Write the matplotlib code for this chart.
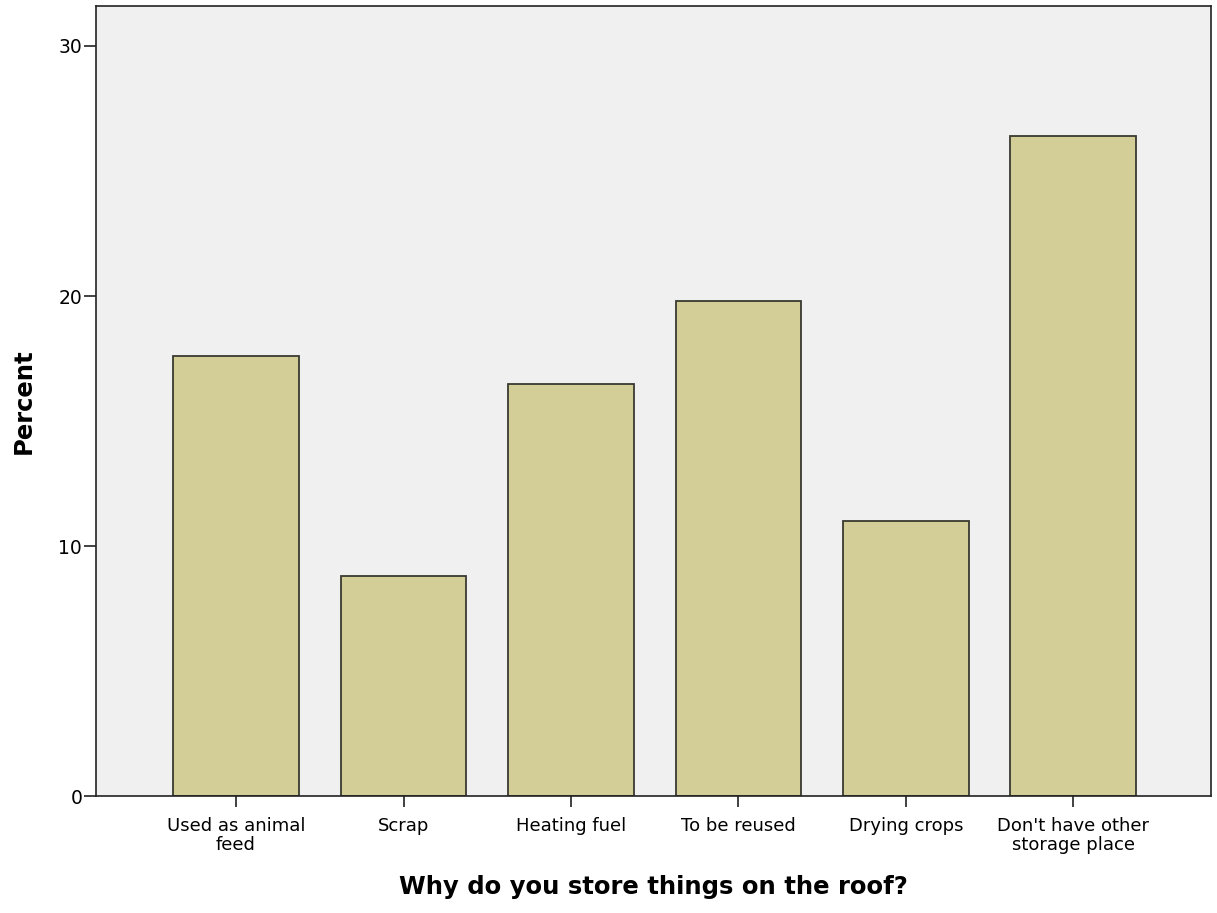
import matplotlib
matplotlib.use("Agg")
import matplotlib.pyplot as plt
import numpy as np

categories = ["Used as animal\nfeed", "Scrap", "Heating fuel", "To be reused",
              "Drying crops", "Don't have other\nstorage place"]
percent = [17.6, 8.8, 16.5, 19.8, 11.0, 26.4]
yticks = [0, 10, 20, 30]

plt.rcParams["font.family"] = ["DejaVu Sans"]

fig = plt.figure(figsize=(12.17, 9.13), dpi=100)
ax = fig.add_axes([0.0789, 0.128, 0.916, 0.8655])
ax.set_facecolor("#f0f0f0")

x = np.arange(len(categories))
ax.bar(x, percent, width=0.752, color="#d3ce97", edgecolor="#3a3a30", linewidth=1.3, zorder=2)

ax.set_xlim(-0.836, 5.82)
ax.set_ylim(0, 31.6)
ax.set_xticks(x)
ax.set_xticklabels(categories, fontsize=13, linespacing=1.05)
ax.set_yticks(yticks)
ax.tick_params(axis="y", labelsize=13.5, length=9, width=1.3, pad=1, color="#333333")
ax.tick_params(axis="x", length=8, width=1.3, pad=7, color="#333333")
for s in ax.spines.values():
    s.set_linewidth(1.2)
    s.set_color("#222222")

ax.set_xlabel("Why do you store things on the roof?", fontsize=17.5, fontweight="bold", labelpad=15)
ax.set_ylabel("Percent", fontsize=17.5, fontweight="bold", labelpad=16)

fig.savefig("out.png", dpi=100)
